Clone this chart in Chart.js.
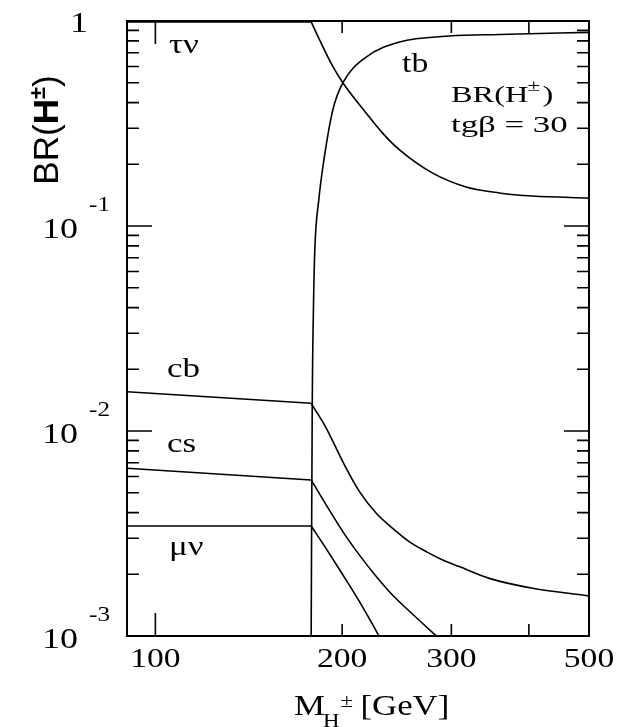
<!DOCTYPE html>
<html>
<head>
<meta charset="utf-8">
<script src="https://cdn.jsdelivr.net/npm/chart.js@4"></script>
<style>
  body { margin: 0; background: #fff; }
  canvas { display: block; }
</style>
</head>
<body>
<canvas id="brChart" width="626" height="727"></canvas>
<script>
// H+ branching ratios vs mass, tg(beta) = 30
// below the tb threshold every channel is a straight line
const massBelow = [90, 178.3];
const brTauNuBelow = [0.99, 0.99];
const brCbBelow = [0.01555, 0.01365];
const brCsBelow = [0.00658, 0.00577];
const brMuNuBelow = [0.00344, 0.00344];

const massTauNu = [178.3, 183.9, 193.2, 200.5, 218.7, 232.6, 247.5, 279.9, 316.8, 358.4, 405.5, 500];
const brTauNu = [0.99, 0.81, 0.60, 0.50, 0.355, 0.283, 0.235, 0.181, 0.155, 0.145, 0.140, 0.137];

const massTb = [178.25, 179.0, 179.9, 180.7, 183.4, 186.2, 193.2, 200.5, 218.7, 247.5, 297.8, 358.4, 500];
const brTb = [0.0009, 0.0134, 0.0436, 0.0763, 0.134, 0.194, 0.368, 0.499, 0.667, 0.79, 0.845, 0.86, 0.88];

const massCb = [178.3, 188.6, 200.5, 213.3, 227.0, 241.3, 256.8, 273.2, 290.5, 309.0, 345.3, 405.5, 500];
const brCb = [0.01365, 0.01031, 0.00708, 0.00506, 0.00397, 0.00335, 0.00288, 0.00258, 0.00235, 0.00218, 0.00191, 0.00171, 0.00157];

const massCs = [178.3, 188.6, 200.5, 213.3, 227.0, 241.3, 256.8, 282.7, 293.4];
const brCs = [0.00577, 0.00435, 0.00323, 0.00248, 0.00195, 0.00158, 0.00132, 0.00101, 0.000914];

const massMuNu = [178.3, 188.6, 200.5, 213.3, 228.9, 234.0];
const brMuNu = [0.00344, 0.00266, 0.00199, 0.00147, 0.00101, 0.000893];

const yDecades = [0.001, 0.01, 0.1, 1];
const yExponents = ["-3", "-2", "-1", ""];
const xTickValues = [100, 200, 300, 500];
const xTickLabels = ["100", "200", "300", "500"];
const xMinorTicks = [200, 300, 400];

const SERIF = '"Liberation Serif", "DejaVu Serif", serif';
const SANS = '"Liberation Sans", "DejaVu Sans", sans-serif';

function toPoints(xs, ys) {
  return xs.map((x, i) => ({ x: x, y: ys[i] }));
}

function curve(label, xs, ys, straight) {
  return {
    label: label,
    data: toPoints(xs, ys),
    showLine: true,
    borderColor: "#000",
    borderWidth: 1.6,
    pointRadius: 0,
    tension: 0,
    cubicInterpolationMode: straight ? "default" : "monotone",
    clip: 1,
  };
}

// draws text with the same horizontal stretch the original figure has
function text(ctx, s, x, y, size, opts = {}) {
  const family = opts.family || SERIF;
  const sx = opts.sx || 1.2;
  ctx.save();
  ctx.font = `${opts.weight || "normal"} ${size}px ${family}`;
  ctx.textAlign = opts.align || "left";
  ctx.textBaseline = "alphabetic";
  ctx.fillStyle = "#000";
  ctx.translate(x, y);
  ctx.scale(sx, 1);
  ctx.fillText(s, 0, 0);
  const w = ctx.measureText(s).width * sx;
  ctx.restore();
  return w;
}

const framePlugin = {
  id: "frame",
  afterDraw(chart) {
    const ctx = chart.ctx;
    const area = chart.chartArea;
    const xs = chart.scales.x;
    const ys = chart.scales.y;

    ctx.save();
    ctx.strokeStyle = "#000";
    ctx.lineWidth = 2;
    ctx.strokeRect(area.left, area.top, area.right - area.left, area.bottom - area.top);

    // y ticks, both sides, inward
    ctx.lineWidth = 1.6;
    ctx.beginPath();
    yDecades.forEach((d, i) => {
      const py = ys.getPixelForValue(d);
      ctx.moveTo(area.left, py); ctx.lineTo(area.left + 25, py);
      ctx.moveTo(area.right, py); ctx.lineTo(area.right - 25, py);
      if (i < yDecades.length - 1) {
        for (let k = 2; k <= 9; k++) {
          const pm = ys.getPixelForValue(d * k);
          ctx.moveTo(area.left, pm); ctx.lineTo(area.left + 12, pm);
          ctx.moveTo(area.right, pm); ctx.lineTo(area.right - 12, pm);
        }
      }
    });
    // x ticks, top and bottom
    const p100 = xs.getPixelForValue(100);
    ctx.moveTo(p100, area.bottom); ctx.lineTo(p100, area.bottom - 23);
    ctx.moveTo(p100, area.top); ctx.lineTo(p100, area.top + 23);
    xMinorTicks.forEach((m) => {
      const px = xs.getPixelForValue(m);
      ctx.moveTo(px, area.bottom); ctx.lineTo(px, area.bottom - 12);
      ctx.moveTo(px, area.top); ctx.lineTo(px, area.top + 12);
    });
    ctx.stroke();
    ctx.restore();

    // y tick labels
    yDecades.forEach((d, i) => {
      const py = ys.getPixelForValue(d);
      if (yExponents[i] === "") {
        text(ctx, "1", 88, py + 11, 30, { align: "right" });
      } else {
        text(ctx, "10", 78, py + 12, 30, { align: "right" });
        text(ctx, yExponents[i], 89, py - 15, 21);
      }
    });

    // x tick labels
    xTickValues.forEach((v, i) => {
      text(ctx, xTickLabels[i], xs.getPixelForValue(v), 667, 28, { align: "center" });
    });

    // x title: M_H± [GeV]
    let x = 294;
    x += text(ctx, "M", x, 715, 29);
    const wH = text(ctx, "H", x - 2, 727, 19);
    text(ctx, "±", x + wH - 1, 707, 19);
    x += wH + 16;
    text(ctx, "[GeV]", x + 3, 715, 29);

    // y title: BR(H±), rotated
    ctx.save();
    ctx.translate(58, 130);
    ctx.rotate(-Math.PI / 2);
    ctx.fillStyle = "#000";
    ctx.textBaseline = "alphabetic";
    const parts = [
      ["BR(", `normal 35px ${SANS}`, 0],
      ["H", `bold 35px ${SANS}`, 0],
      ["±", `bold 22px ${SANS}`, -13],
      [")", `normal 35px ${SANS}`, 0],
    ];
    let total = 0;
    parts.forEach((p) => { ctx.font = p[1]; total += ctx.measureText(p[0]).width; });
    let tx = -total / 2;
    parts.forEach((p) => {
      ctx.font = p[1];
      ctx.fillText(p[0], tx, p[2]);
      tx += ctx.measureText(p[0]).width;
    });
    ctx.restore();

    // channel labels
    text(ctx, "τν", 169, 53, 28, { sx: 1.25 });
    text(ctx, "tb", 402, 72, 27, { sx: 1.25 });
    text(ctx, "cb", 167, 377, 28, { sx: 1.25 });
    text(ctx, "cs", 167, 452, 28, { sx: 1.25 });
    text(ctx, "μν", 169, 555, 28, { sx: 1.25 });

    // plot caption
    let bx = 451;
    bx += text(ctx, "BR(H", bx, 102, 24, { sx: 1.35 });
    text(ctx, "±", bx - 1, 91, 17, { sx: 1.35 });
    text(ctx, ")", bx + 14, 102, 24, { sx: 1.35 });
    text(ctx, "tgβ = 30", 451, 132, 24, { sx: 1.45 });
  },
};

new Chart(document.getElementById("brChart"), {
  type: "scatter",
  data: {
    datasets: [
      curve("τν", massBelow, brTauNuBelow, true),
      curve("cb", massBelow, brCbBelow, true),
      curve("cs", massBelow, brCsBelow, true),
      curve("μν", massBelow, brMuNuBelow, true),
      curve("τν", massTauNu, brTauNu),
      curve("tb", massTb, brTb),
      curve("cb", massCb, brCb),
      curve("cs", massCs, brCs),
      curve("μν", massMuNu, brMuNu),
    ],
  },
  options: {
    responsive: false,
    animation: false,
    layout: { padding: { left: 127, top: 21, right: 37, bottom: 91 } },
    scales: {
      x: { type: "logarithmic", min: 90, max: 500, display: false },
      y: { type: "logarithmic", min: 0.001, max: 1, display: false },
    },
    plugins: {
      legend: { display: false },
      tooltip: { enabled: false },
    },
  },
  plugins: [framePlugin],
});
</script>
</body>
</html>
